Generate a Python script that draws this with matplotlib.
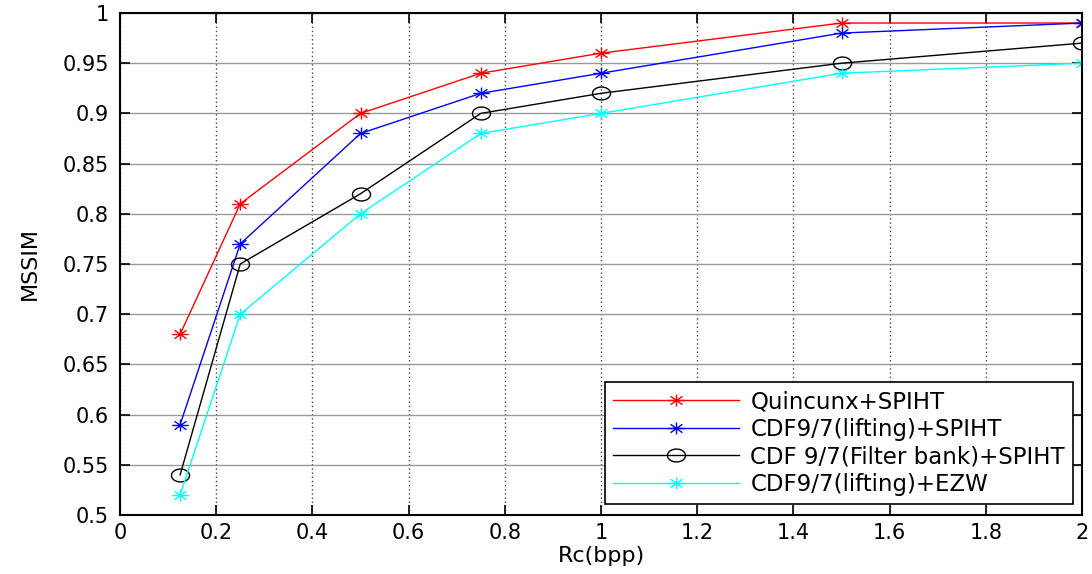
import matplotlib
matplotlib.use("Agg")
import matplotlib.pyplot as plt
import numpy as np
from matplotlib.path import Path

plt.rcParams['font.family'] = ['DejaVu Sans']

rates = [0.125, 0.25, 0.5, 0.75, 1.0, 1.5, 2.0]
quincunx_spiht = [0.68, 0.81, 0.90, 0.94, 0.96, 0.99, 0.99]
cdf_lifting_spiht = [0.59, 0.77, 0.88, 0.92, 0.94, 0.98, 0.99]
cdf_filterbank_spiht = [0.54, 0.75, 0.82, 0.90, 0.92, 0.95, 0.97]
cdf_lifting_ezw = [0.52, 0.70, 0.80, 0.88, 0.90, 0.94, 0.95]
labels = ["Quincunx+SPIHT", "CDF9/7(lifting)+SPIHT",
          "CDF 9/7(Filter bank)+SPIHT", "CDF9/7(lifting)+EZW"]
xticks = [0, 0.2, 0.4, 0.6, 0.8, 1, 1.2, 1.4, 1.6, 1.8, 2]
yticks = [0.5, 0.55, 0.6, 0.65, 0.7, 0.75, 0.8, 0.85, 0.9, 0.95, 1]

# horizontally stretched asterisk and ellipse markers (as in the stretched original)
sx = 1.4
verts, codes = [], []
for ang in np.arange(0, np.pi, np.pi / 4):
    dx, dy = sx * np.cos(ang), np.sin(ang)
    verts += [(-dx, -dy), (dx, dy)]
    codes += [Path.MOVETO, Path.LINETO]
asterisk = Path(verts, codes)
t = np.linspace(0, 2 * np.pi, 60)
ellipse = Path(np.column_stack([sx * np.cos(t), np.sin(t)]), closed=True)

fig = plt.figure(figsize=(10.92, 5.74), dpi=100)
ax = fig.add_axes([120/1092, 1 - 515/574, (1082-120)/1092, (515-13)/574])

ms = 12
ax.plot(rates, quincunx_spiht, color='red', marker=asterisk, markersize=ms, lw=1, label=labels[0])
ax.plot(rates, cdf_lifting_spiht, color='blue', marker=asterisk, markersize=ms, lw=1, label=labels[1])
ax.plot(rates, cdf_filterbank_spiht, color='black', marker=ellipse, markersize=13,
        markerfacecolor='none', markeredgewidth=1, lw=1, label=labels[2])
ax.plot(rates, cdf_lifting_ezw, color='cyan', marker=asterisk, markersize=ms, lw=1, label=labels[3])

ax.set_xlim(0, 2)
ax.set_ylim(0.5, 1)
ax.set_xticks(xticks)
ax.set_xticklabels([f"{v:g}" for v in xticks])
ax.set_yticks(yticks)
ax.set_yticklabels([f"{v:g}" for v in yticks])
ax.tick_params(direction='in', top=True, right=True, labelsize=15, length=7, width=1.2)
ax.tick_params(axis='y', pad=8)
ax.tick_params(axis='x', pad=6)
ax.xaxis.grid(True, linestyle=(0, (1, 2)), color='#444444', linewidth=1)
ax.yaxis.grid(True, linestyle='-', color='#999999', linewidth=1)
for s in ax.spines.values():
    s.set_linewidth(1.5)

ax.set_xlabel("Rc(bpp)", fontsize=16, labelpad=2)
ax.set_ylabel("MSSIM", fontsize=16, labelpad=16)

leg = ax.legend(loc='lower right', bbox_to_anchor=(0.9906, 0.0219), borderaxespad=0,
                fontsize=16.5, frameon=True, fancybox=False,
                edgecolor='black', framealpha=1, borderpad=0.35,
                handlelength=5.5, handletextpad=0.5, labelspacing=0.2)
leg.get_frame().set_linewidth(1.2)

fig.savefig("out.png", dpi=100)
